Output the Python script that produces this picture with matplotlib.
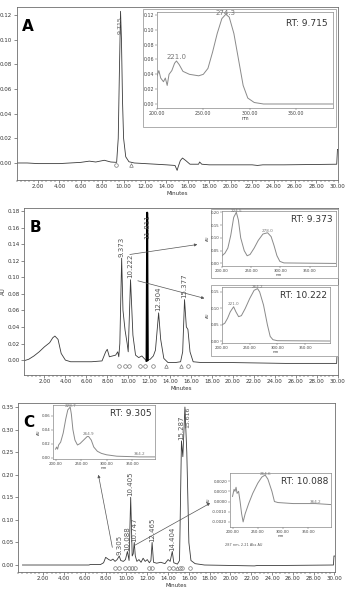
import numpy as np
import matplotlib.pyplot as plt
from matplotlib.ticker import MultipleLocator, FormatStrFormatter
from matplotlib.patches import Rectangle

# ---- chromatogram A ----
tA = [0.0, 1.0, 2.0, 3.0, 4.0, 5.0, 6.0, 6.8, 7.4, 8.2, 8.8, 9.35, 9.5, 9.6, 9.715, 9.8,
      9.9, 10.0, 10.2, 10.5, 11.0, 12.0, 13.0, 14.0, 14.8, 15.0, 15.1, 15.3, 15.5, 15.8,
      16.2, 17.0, 17.1, 17.3, 18.0, 20.0, 22.0, 22.5, 23.0, 25.0, 28.0, 29.9, 29.97, 30.0]
yA = [0.0, 0.0, -0.0005, -0.0005, -0.0005, 0.0, 0.0005, 0.0015, 0.0008, 0.0022, 0.0008,
      0.0005, 0.02, 0.07, 0.123, 0.10, 0.05, 0.02, 0.005, 0.001, 0.0, -0.0005, -0.001,
      -0.0015, -0.002, -0.006, -0.003, 0.002, 0.004, 0.002, -0.001, -0.001, 0.0008, -0.001,
      -0.0015, -0.0015, -0.0015, -0.002, -0.0015, -0.0015, -0.0012, -0.001, 0.011, 0.011]
peaksA = [9.715]
peaksA_y = [0.119]
circA = [9.28]
triA = [10.65]

# ---- chromatogram B ----
tB = [0.0, 0.5, 1.0, 1.5, 2.0, 2.5, 2.8, 3.0, 3.3, 3.6, 4.0, 4.5, 5.5, 6.5, 7.5, 7.85,
      8.0, 8.2, 8.5, 8.8, 9.0, 9.1, 9.2, 9.373, 9.5, 9.7, 9.9, 10.0, 10.222, 10.45, 10.7,
      11.0, 11.3, 11.6, 11.75, 11.811, 11.87, 12.1, 12.4, 12.6, 12.904, 13.1, 13.4, 13.8,
      14.5, 15.0, 15.2, 15.377, 15.55, 15.7, 15.9, 16.2, 17.0, 20.0, 25.0, 29.9, 29.97, 30.0]
yB = [-0.001, 0.001, 0.005, 0.01, 0.016, 0.021, 0.027, 0.029, 0.025, 0.008, 0.0, -0.002,
      -0.002, -0.002, -0.001, 0.01, 0.013, 0.004, 0.005, 0.006, 0.01, 0.004, 0.02, 0.123,
      0.06, 0.036, 0.02, 0.01, 0.097, 0.03, 0.006, 0.003, 0.005, 0.001, -0.001, 0.178, 0.0,
      0.001, 0.005, 0.012, 0.057, 0.025, 0.002, -0.003, -0.003, -0.002, 0.01, 0.073, 0.04,
      0.037, 0.01, -0.002, -0.003, -0.003, -0.004, -0.004, 0.016, 0.016]
peaksB = [9.373, 10.222, 11.811, 12.904, 15.377]
peaksB_y = [0.125, 0.099, 0.146, 0.059, 0.075]
circB = [9.13, 9.70, 10.12, 11.13, 11.64, 12.35, 15.75]
triB = [13.59, 15.08]

# ---- chromatogram C ----
tC = [0.0, 3.0, 6.4, 6.5, 7.5, 7.8, 8.0, 8.3, 8.5, 8.7, 8.9, 9.1, 9.305, 9.45, 9.7, 9.9,
      10.088, 10.25, 10.405, 10.55, 10.65, 10.747, 10.85, 11.0, 11.2, 11.4, 11.6, 11.8,
      12.0, 12.2, 12.35, 12.465, 12.6, 12.9, 13.3, 13.7, 14.0, 14.2, 14.404, 14.55, 14.9,
      15.1, 15.287, 15.42, 15.62, 15.8, 16.0, 16.2, 16.6, 17.5, 20.0, 22.3, 22.6, 25.0,
      29.9, 29.95, 30.0]
yC = [0.0, 0.0, 0.0, 0.001, 0.001, 0.005, 0.017, 0.012, 0.01, 0.013, 0.008, 0.012, 0.02,
      0.01, 0.008, 0.012, 0.03, 0.01, 0.15, 0.02, 0.025, 0.05, 0.02, 0.008, 0.012, 0.006,
      0.015, 0.008, 0.012, 0.005, 0.01, 0.05, 0.006, 0.004, 0.006, 0.003, 0.012, 0.008,
      0.03, 0.005, 0.002, 0.01, 0.275, 0.24, 0.35, 0.25, 0.05, 0.01, 0.003, 0.0, -0.001,
      -0.002, -0.001, -0.001, 0.0, 0.02, 0.02]
peaksC = [9.305, 10.088, 10.405, 10.747, 12.465, 14.404, 15.287]
peaksC_y = [0.022, 0.032, 0.152, 0.052, 0.052, 0.032, 0.277]
topC = [15.616]
topC_y = [0.352]
circC = [8.94, 9.25, 9.90, 10.21, 10.54, 10.86, 12.13, 12.46, 14.05, 14.47, 15.11, 15.34, 16.1]
triC = [14.89]

# ---- UV spectra (insets) ----
wlA = [200, 202, 204, 207, 209, 211, 213, 216, 219, 221, 224, 228, 235, 245, 250, 255, 260,
       265, 270, 274.3, 278, 283, 288, 293, 298, 305, 315, 395]
abA = [0.038, 0.045, 0.035, 0.030, 0.035, 0.025, 0.040, 0.045, 0.055, 0.058, 0.053, 0.044,
       0.040, 0.038, 0.040, 0.048, 0.070, 0.095, 0.115, 0.121, 0.117, 0.095, 0.060, 0.025,
       0.008, 0.002, 0.0, 0.0]
wlB1 = [200, 205, 210, 215, 220, 224.5, 228, 232, 238, 243, 248, 255, 262, 270, 278, 284,
        289, 294, 299, 306, 395]
abB1 = [0.03, 0.04, 0.06, 0.11, 0.18, 0.20, 0.17, 0.10, 0.05, 0.03, 0.035, 0.06, 0.09,
        0.115, 0.12, 0.105, 0.07, 0.03, 0.008, 0.002, 0.0]
wlB2 = [200, 205, 210, 215, 221, 225, 230, 235, 242, 250, 258, 264.2, 268, 275, 282, 287,
        292, 300, 395]
abB2 = [0.05, 0.055, 0.07, 0.09, 0.105, 0.09, 0.075, 0.078, 0.10, 0.13, 0.155, 0.16, 0.15,
        0.11, 0.05, 0.015, 0.005, 0.002, 0.001]
wlC1 = [200, 202, 204, 206, 210, 215, 220, 224, 228.7, 231, 234, 238, 243, 248, 255, 262,
        264.9, 270, 275, 282, 290, 300, 320, 364.2, 395]
abC1 = [0.012, 0.015, 0.012, 0.018, 0.022, 0.035, 0.055, 0.068, 0.072, 0.062, 0.04, 0.025,
        0.018, 0.02, 0.025, 0.03, 0.03, 0.025, 0.015, 0.009, 0.006, 0.004, 0.002, 0.001, 0.001]
wlC2 = [200, 203, 205, 207, 209, 212, 215, 218, 221, 225, 232, 240, 250, 258, 264.6, 270,
        278, 283, 290, 320, 364.2, 395]
abC2 = [0.0005, 0.0012, 0.0010, 0.0014, 0.0008, 0.0010, 0.0, -0.0012, -0.0020, -0.0012,
        -0.0002, 0.0008, 0.0018, 0.0024, 0.0026, 0.0022, 0.0010, 0.0, -0.0001, -0.0002,
        -0.0002, -0.0003]

W, H = 346, 591
fig = plt.figure(figsize=(W / 100, H / 100), dpi=100)
plt.rcParams['font.family'] = ['DejaVu Sans']

LINE = '#3a3a3a'
SPEC = '#8a8a8a'
FRAME = '#6e6e6e'


def px_axes(l, t, r, b, z=0):
    return fig.add_axes([l / W, 1 - b / H, (r - l) / W, (b - t) / H], zorder=z)


def px_box(l, t, r, b):
    fig.add_artist(Rectangle((l / W, 1 - b / H), (r - l) / W, (b - t) / H,
                             transform=fig.transFigure, facecolor='white',
                             edgecolor='#a0a0a0', linewidth=0.6, zorder=0.5))


def chrom(ax, t, y, ylim, yticks, xlim, peaks, peaks_y, circ, tri, mark_y, letter):
    ax.plot(t, y, color=LINE, linewidth=0.6)
    ax.set_xlim(*xlim)
    ax.set_ylim(*ylim)
    ax.set_xticks(np.arange(2, 31, 2))
    ax.xaxis.set_minor_locator(MultipleLocator(0.4))
    ax.xaxis.set_major_formatter(FormatStrFormatter('%.2f'))
    ax.set_yticks(yticks)
    ax.yaxis.set_major_formatter(FormatStrFormatter('%.2f'))
    ax.tick_params(labelsize=4, length=2, width=0.4, pad=1, colors='#333333')
    ax.tick_params(which='minor', length=1.2, width=0.3)
    for s in ax.spines.values():
        s.set_color(FRAME)
        s.set_linewidth(0.6)
    ax.set_xlabel('Minutes', fontsize=4, labelpad=1, color='#333333')
    for p, py in zip(peaks, peaks_y):
        ax.text(p, py, '%.3f' % p, rotation=90, ha='center', va='bottom',
                fontsize=5, color='#555555')
    ax.plot(circ, [mark_y] * len(circ), 'o', ms=2.6, mfc='none', mec='#777777', mew=0.5)
    ax.plot(tri, [mark_y] * len(tri), '^', ms=2.6, mfc='none', mec='#777777', mew=0.5)
    ax.text(0.018, 0.93, letter, transform=ax.transAxes, fontsize=11, fontweight='bold',
            ha='left', va='top')


def spectrum(ax, wl, ab, xlim, ylim, yticks, yfmt, rt, labels, fs_tick=2.8, fs_rt=6.5):
    ax.plot(wl, ab, color=SPEC, linewidth=0.7)
    ax.set_facecolor('white')
    ax.set_xlim(*xlim)
    ax.set_ylim(*ylim)
    ax.set_xticks([200, 250, 300, 350])
    ax.xaxis.set_major_formatter(FormatStrFormatter('%.2f'))
    ax.set_yticks(yticks)
    ax.yaxis.set_major_formatter(FormatStrFormatter(yfmt))
    ax.tick_params(labelsize=fs_tick, length=1.2, width=0.3, pad=0.8, colors='#444444')
    for s in ax.spines.values():
        s.set_color('#888888')
        s.set_linewidth(0.5)
    ax.set_xlabel('nm', fontsize=fs_tick, labelpad=0.5, color='#444444')
    ax.text(0.97, 0.93, 'RT: ' + rt, transform=ax.transAxes, ha='right', va='top',
            fontsize=fs_rt, color='#333333')
    for lx, ly, fs in labels:
        ax.text(lx, ly, '%.1f' % lx, ha='center', va='bottom', fontsize=fs, color='#777777')


# ---------------- Panel A ----------------
axA = px_axes(16.5, 7, 338, 180)
chrom(axA, tA, yA, (-0.0138, 0.1265), np.arange(0, 0.121, 0.02), (0, 30.02),
      [], [], circA, triA, -0.002, 'A')
for p, py in zip(peaksA, peaksA_y):
    axA.text(p, py, '%.3f' % p, rotation=90, ha='center', va='top', fontsize=4.5,
             color='#555555')
px_box(143, 9, 336, 127)
insA = px_axes(157, 12, 333, 108, z=1)
spectrum(insA, wlA, abA, (203, 390), (-0.0054, 0.124), np.arange(0, 0.121, 0.02), '%.2f',
         '9.715', [(221.0, 0.059, 5), (274.3, 0.119, 5)], fs_tick=3.4)

# ---------------- Panel B ----------------
axB = px_axes(24, 208, 338, 375)
chrom(axB, tB, yB, (-0.018, 0.1836), np.arange(0, 0.181, 0.02), (0.05, 30.03),
      peaksB, peaksB_y, circB, triB, -0.0072, 'B')
sel = slice(tB.index(11.75), tB.index(11.87) + 1)
axB.plot(tB[sel], yB[sel], color='black', linewidth=1.4)
axB.set_ylabel('AU', fontsize=4, labelpad=1, color='#333333')
axB.annotate('', xy=(16.86, 0.140), xytext=(9.89, 0.127),
             arrowprops=dict(arrowstyle='-|>', color='#555555', lw=0.5, mutation_scale=4),
             annotation_clip=False)
axB.annotate('', xy=(17.53, 0.0737), xytext=(10.66, 0.0966),
             arrowprops=dict(arrowstyle='-|>', color='#555555', lw=0.5, mutation_scale=4),
             annotation_clip=False)
px_box(211, 209, 338, 278)
insB1 = px_axes(222, 211, 336, 266, z=1)
spectrum(insB1, wlB1, abB1, (200, 395), (-0.01, 0.205), [0, 0.05, 0.10, 0.15, 0.20], '%.2f',
         '9.373', [(224.5, 0.198, 3), (278.0, 0.12, 3)])
insB1.set_ylabel('AU', fontsize=2.8, labelpad=0.5, color='#444444')
px_box(211, 285, 338, 356)
insB2 = px_axes(222, 287, 330, 343, z=1)
spectrum(insB2, wlB2, abB2, (200, 395), (-0.005, 0.165), [0, 0.05, 0.10, 0.15], '%.2f',
         '10.222', [(221.0, 0.106, 3), (264.2, 0.159, 3)])
insB2.set_ylabel('AU', fontsize=2.8, labelpad=0.5, color='#444444')

# ---------------- Panel C ----------------
axC = px_axes(18, 403, 335, 572)
chrom(axC, tC, yC, (-0.0155, 0.359), np.arange(0, 0.351, 0.05), (-0.43, 30.05),
      peaksC, peaksC_y, circC, triC, -0.0067, 'C')
for p, py in zip(topC, topC_y):
    axC.text(p + 0.25, py, '%.3f' % p, rotation=90, ha='center', va='top', fontsize=4.5,
             color='#555555')
axC.annotate('', xy=(7.25, 0.206), xytext=(8.69, 0.033),
             arrowprops=dict(arrowstyle='-|>', color='#555555', lw=0.5, mutation_scale=4),
             annotation_clip=False)
axC.annotate('', xy=(18.28, 0.140), xytext=(10.51, 0.040),
             arrowprops=dict(arrowstyle='-|>', color='#555555', lw=0.5, mutation_scale=4),
             annotation_clip=False)
insC1 = px_axes(53, 405, 155, 459, z=1)
spectrum(insC1, wlC1, abC1, (195, 395), (-0.002, 0.075), [0.0, 0.02, 0.04, 0.06], '%.2f',
         '9.305', [(228.7, 0.071, 3), (264.9, 0.031, 3), (364.2, 0.002, 3)])
insC1.set_ylabel('AU', fontsize=2.8, labelpad=0.5, color='#444444')
insC2 = px_axes(230, 473, 331, 527, z=1)
spectrum(insC2, wlC2, abC2, (195, 395), (-0.0025, 0.0028), [-0.002, -0.001, 0.0, 0.001, 0.002],
         '%.4f', '10.088', [(264.6, 0.0025, 3), (364.2, -0.0002, 3)])
insC2.set_ylabel('AU', fontsize=2.8, labelpad=0.5, color='#444444')
insC2.text(-0.05, -0.3, '287 nm, 2.21 Abs AU', transform=insC2.transAxes, fontsize=2.5,
           color='#555555', ha='left', va='top')

fig.savefig('out.png', dpi=100)
